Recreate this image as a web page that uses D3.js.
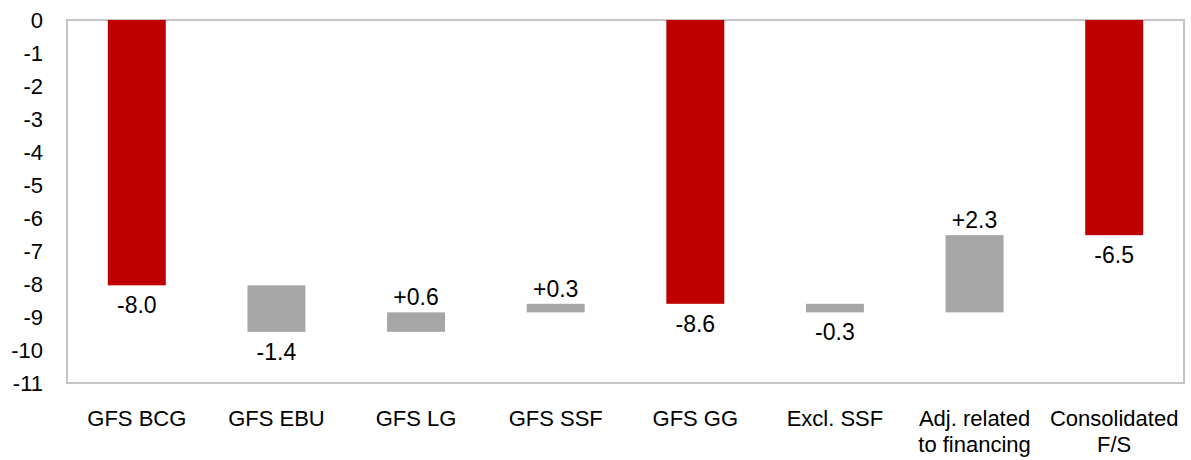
<!DOCTYPE html>
<html>
<head>
<meta charset="utf-8">
<script src="https://cdn.jsdelivr.net/npm/d3@7/dist/d3.min.js"></script>
<style>
  html, body { margin: 0; padding: 0; background: #fff; }
  svg { display: block; }
  text { font-family: "Liberation Sans", Arial, sans-serif; fill: #000; }
</style>
</head>
<body>
<svg id="chart" width="1191" height="460"></svg>
<script>
// ---- data ----
const categories = [["GFS BCG"], ["GFS EBU"], ["GFS LG"], ["GFS SSF"], ["GFS GG"], ["Excl. SSF"], ["Adj. related", "to financing"], ["Consolidated", "F/S"]];
const values = [-8.04, -1.41, 0.59, 0.26, -8.60, -0.26, 2.34, -6.52];
const barTypes = ["total", "delta", "delta", "delta", "total", "delta", "delta", "total"];
const yTicks = [0, -1, -2, -3, -4, -5, -6, -7, -8, -9, -10, -11];

// ---- layout ----
const svg = d3.select("#chart");
const plot = { left: 67, top: 20, right: 1184, bottom: 383 };

const x = d3.scaleBand()
  .domain(d3.range(categories.length))
  .range([plot.left, plot.right])
  .paddingInner(0.585)
  .paddingOuter(0.2925);

const y = d3.scaleLinear().domain([0, -11]).range([plot.top, plot.bottom]);

// compute waterfall spans
let level = 0;
const bars = values.map((v, i) => {
  let start, end;
  if (barTypes[i] === "total") { start = 0; end = v; level = v; }
  else { start = level; end = level + v; level = end; }
  return { i, v, start, end, type: barTypes[i] };
});

// frame
svg.append("rect")
  .attr("x", plot.left).attr("y", plot.top)
  .attr("width", plot.right - plot.left).attr("height", plot.bottom - plot.top)
  .attr("fill", "none").attr("stroke", "#c4c4c4").attr("stroke-width", 2);

// y axis labels (hyphen-minus as in the reference)
const yAxis = d3.axisLeft(y).tickValues(yTicks).tickSize(0).tickPadding(0)
  .tickFormat(d => String(d));
const gy = svg.append("g").attr("transform", `translate(${plot.left - 24},0)`).call(yAxis);
gy.select(".domain").remove();
gy.selectAll("text").style("font-size", "22px").attr("dy", "0.36em")
  .style("font-family", "'Liberation Sans', Arial, sans-serif");

// bars
svg.append("g").selectAll("rect").data(bars).join("rect")
  .attr("x", d => x(d.i))
  .attr("width", x.bandwidth())
  .attr("y", d => y(Math.max(d.start, d.end)))
  .attr("height", d => Math.abs(y(d.start) - y(d.end)))
  .attr("fill", d => d.type === "total" ? "#c00000" : "#a6a6a6");

// data labels
const fmt = v => (v > 0 ? "+" : "") + d3.format(".1f")(v).replace("\u2212", "-");
svg.append("g").selectAll("text").data(bars).join("text")
  .attr("x", d => x(d.i) + x.bandwidth() / 2)
  .attr("y", d => d.v >= 0 ? y(Math.max(d.start, d.end)) - 7 : y(Math.min(d.start, d.end)) + 28)
  .attr("text-anchor", "middle")
  .style("font-size", "23px")
  .text(d => fmt(d.v));

// x axis labels
const xl = svg.append("g").selectAll("text").data(categories).join("text")
  .attr("x", (d, i) => x(i) + x.bandwidth() / 2)
  .attr("y", 426)
  .attr("text-anchor", "middle")
  .style("font-size", "22px");
xl.selectAll("tspan").data(d => d).join("tspan")
  .attr("x", function () { return d3.select(this.parentNode).attr("x"); })
  .attr("dy", (d, j) => j === 0 ? 0 : 26)
  .text(d => d);
</script>
</body>
</html>
